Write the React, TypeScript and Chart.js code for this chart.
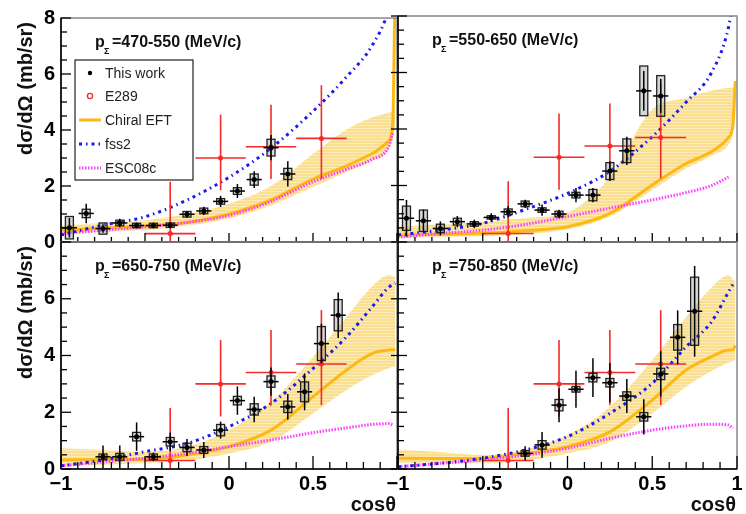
import React, { useEffect, useRef } from "react";
import { Chart, registerables } from "chart.js";

Chart.register(...registerables);

const FONT = '"Liberation Sans", Arial, Helvetica, sans-serif';

// ---------- axis ticks ----------
const X_TICKS = [-1, -0.5, 0, 0.5, 1];
const X_TICK_LABELS = ["\u22121", "\u22120.5", "0", "0.5", "1"];
const Y_TICKS = [0, 2, 4, 6, 8];
const Y_TICK_LABELS = ["0", "2", "4", "6", "8"];

const Y_TITLE = "d\u03c3/d\u03a9 (mb/sr)";
const X_TITLE = "cos\u03b8";
const LEGEND_LABELS = ["This work", "E289", "Chiral EFT", "fss2", "ESC08c"];

// ---------- theory curves sampled at these cos(theta) ----------
const CURVE_X = [-1, -0.75, -0.5, -0.25, 0, 0.25, 0.5, 0.7, 0.85, 0.95, 0.975, 0.99];

// ---------- E289 (same in every panel) ----------
const E289_COS = [-0.35, -0.05, 0.25, 0.55];
const E289_VAL = [0.3, 3.0, 3.4, 3.7];
const E289_ERR_UP = [1.85, 1.55, 1.5, 1.9];
const E289_ERR_DN = [1.85, 1.15, 1.15, 1.45];
const E289_HALF_BIN = 0.15;
const WORK_HALF_BIN = 0.045;

// ---------- panel 1: 470-550 MeV/c ----------
const P1_COS = [-0.95, -0.85, -0.75, -0.65, -0.55, -0.45, -0.35, -0.25, -0.15, -0.05, 0.05, 0.15, 0.25, 0.35];
const P1_VAL = [0.51, 1.02, 0.48, 0.68, 0.59, 0.59, 0.6, 0.99, 1.11, 1.45, 1.82, 2.23, 3.37, 2.43];
const P1_STAT = [0.35, 0.35, 0.15, 0.15, 0.1, 0.1, 0.1, 0.12, 0.15, 0.2, 0.25, 0.3, 0.45, 0.45];
const P1_SYS = [0.4, 0.15, 0.2, 0.1, 0.08, 0.08, 0.08, 0.1, 0.1, 0.1, 0.12, 0.2, 0.3, 0.2];
const P1_CHIRAL = [0.42, 0.5, 0.57, 0.7, 1.0, 1.5, 2.25, 2.72, 3.15, 3.6, 4.3, 10];
const P1_BAND_UP = [0.6, 0.68, 0.78, 1.0, 1.37, 2.0, 3.14, 4.02, 4.45, 4.62, 4.67, 4.7];
const P1_BAND_LO = [0.3, 0.36, 0.42, 0.58, 0.84, 1.3, 1.96, 2.5, 2.9, 3.3, 3.7, 4.2];
const P1_FSS2 = [0.25, 0.6, 0.9, 1.5, 2.31, 3.35, 4.67, 5.9, 7.0, 8.3, 9, null];
const P1_ESC08C = [0.3, 0.42, 0.54, 0.7, 0.95, 1.45, 2.15, 2.6, 2.95, 3.4, 3.9, null];

// ---------- panel 2: 550-650 MeV/c ----------
const P2_COS = [-0.95, -0.85, -0.75, -0.65, -0.55, -0.45, -0.35, -0.25, -0.15, -0.05, 0.05, 0.15, 0.25, 0.35, 0.45, 0.55];
const P2_VAL = [0.84, 0.75, 0.48, 0.72, 0.64, 0.87, 1.07, 1.35, 1.13, 0.99, 1.66, 1.66, 2.51, 3.23, 5.35, 5.17];
const P2_STAT = [0.65, 0.4, 0.25, 0.2, 0.15, 0.15, 0.2, 0.15, 0.2, 0.15, 0.25, 0.25, 0.35, 0.5, 0.7, 0.6];
const P2_SYS = [0.43, 0.38, 0.15, 0.12, 0.08, 0.06, 0.1, 0.1, 0.08, 0.1, 0.1, 0.2, 0.3, 0.42, 0.88, 0.72];
const P2_CHIRAL = [0.25, 0.27, 0.31, 0.4, 0.54, 1.01, 2.02, 2.78, 3.2, 3.7, 4.1, 5.7];
const P2_BAND_UP = [0.54, 0.62, 0.72, 0.85, 1.05, 2.3, 4.7, 5.1, 5.35, 5.45, 5.45, 5.6];
const P2_BAND_LO = [0.15, 0.17, 0.2, 0.28, 0.45, 0.9, 1.84, 2.6, 3.05, 3.45, 3.8, 4.5];
const P2_FSS2 = [0.25, 0.42, 0.66, 1.15, 1.72, 2.5, 3.73, 4.95, 6.0, 7.6, 8.5, null];
const P2_ESC08C = [0.17, 0.3, 0.42, 0.62, 0.9, 1.2, 1.49, 1.75, 2.0, 2.3, null, null];

// ---------- panel 3: 650-750 MeV/c ----------
const P3_COS = [-0.75, -0.65, -0.55, -0.45, -0.35, -0.25, -0.15, -0.05, 0.05, 0.15, 0.25, 0.35, 0.45, 0.55, 0.65];
const P3_VAL = [0.43, 0.43, 1.14, 0.43, 0.96, 0.76, 0.67, 1.37, 2.41, 2.1, 3.08, 2.19, 2.72, 4.42, 5.42];
const P3_STAT = [0.4, 0.4, 0.5, 0.15, 0.33, 0.3, 0.28, 0.3, 0.5, 0.45, 0.5, 0.45, 0.65, 0.7, 0.8];
const P3_SYS = [0.1, 0.12, 0.15, 0.1, 0.15, 0.15, 0.12, 0.2, 0.15, 0.2, 0.2, 0.2, 0.35, 0.6, 0.55];
const P3_CHIRAL = [0.32, 0.33, 0.34, 0.49, 0.79, 1.37, 2.55, 3.49, 4.07, 4.19, 4.2, 4.2];
const P3_BAND_UP = [0.73, 0.67, 0.6, 0.79, 1.37, 2.37, 3.95, 5.36, 6.42, 6.83, 6.8, 6.75];
const P3_BAND_LO = [0.1, 0.15, 0.2, 0.3, 0.55, 0.96, 1.96, 2.78, 3.3, 3.55, 3.6, 3.6];
const P3_FSS2 = [0.11, 0.32, 0.61, 0.9, 1.49, 2.31, 3.54, 4.66, 5.7, 6.4, 6.5, 6.55];
const P3_ESC08C = [0.11, 0.25, 0.38, 0.55, 0.79, 1.02, 1.28, 1.45, 1.57, 1.6, 1.55, null];

// ---------- panel 4: 750-850 MeV/c ----------
const P4_COS = [-0.25, -0.15, -0.05, 0.05, 0.15, 0.25, 0.35, 0.45, 0.55, 0.65, 0.75];
const P4_VAL = [0.55, 0.85, 2.25, 2.81, 3.22, 3.04, 2.57, 1.84, 3.35, 4.64, 5.56];
const P4_STAT = [0.25, 0.45, 0.6, 0.65, 0.68, 0.7, 0.6, 0.62, 0.8, 0.95, 1.6];
const P4_SYS = [0.1, 0.15, 0.2, 0.1, 0.15, 0.15, 0.15, 0.15, 0.2, 0.45, 1.2];
const P4_CHIRAL = [0.38, 0.37, 0.38, 0.55, 0.79, 1.31, 2.43, 3.49, 3.96, 4.19, 4.2, 4.35];
const P4_BAND_UP = [0.69, 0.6, 0.49, 0.69, 1.2, 2.19, 3.84, 5.36, 6.4, 6.83, 6.7, 6.6];
const P4_BAND_LO = [0.2, 0.2, 0.2, 0.3, 0.55, 0.96, 1.96, 2.9, 3.45, 3.75, 3.8, 3.85];
const P4_FSS2 = [0.08, 0.2, 0.38, 0.67, 1.14, 1.96, 3.02, 4.31, 5.19, 6.24, 6.5, null];
const P4_ESC08C = [0.08, 0.2, 0.32, 0.49, 0.73, 1.08, 1.37, 1.52, 1.58, 1.55, 1.43, null];

const PANELS = [
  {
    label: "=470-550 (MeV/c)", cos: P1_COS, val: P1_VAL, stat: P1_STAT, sys: P1_SYS,
    chiral: P1_CHIRAL, up: P1_BAND_UP, lo: P1_BAND_LO, fss2: P1_FSS2, esc: P1_ESC08C,
    left: 0, top: 0, w: 410, h: 260, pad: { left: 0, top: 16, right: 13, bottom: 18 },
    yW: 61, xH: 0, showX: false, showY: true, right: false, bottom: false, legend: true,
    hideX: [] as number[], hideY: [] as number[],
  },
  {
    label: "=550-650 (MeV/c)", cos: P2_COS, val: P2_VAL, stat: P2_STAT, sys: P2_SYS,
    chiral: P2_CHIRAL, up: P2_BAND_UP, lo: P2_BAND_LO, fss2: P2_FSS2, esc: P2_ESC08C,
    left: 380, top: 0, w: 366, h: 260, pad: { left: 0, top: 16, right: 9, bottom: 18 },
    yW: 18, xH: 0, showX: false, showY: false, right: true, bottom: false, legend: false,
    hideX: [] as number[], hideY: [] as number[],
  },
  {
    label: "=650-750 (MeV/c)", cos: P3_COS, val: P3_VAL, stat: P3_STAT, sys: P3_SYS,
    chiral: P3_CHIRAL, up: P3_BAND_UP, lo: P3_BAND_LO, fss2: P3_FSS2, esc: P3_ESC08C,
    left: 0, top: 220, w: 410, h: 294, pad: { left: 0, top: 22, right: 13, bottom: 0 },
    yW: 61, xH: 45, showX: true, showY: true, right: false, bottom: true, legend: false,
    hideX: [1], hideY: [8],
  },
  {
    label: "=750-850 (MeV/c)", cos: P4_COS, val: P4_VAL, stat: P4_STAT, sys: P4_SYS,
    chiral: P4_CHIRAL, up: P4_BAND_UP, lo: P4_BAND_LO, fss2: P4_FSS2, esc: P4_ESC08C,
    left: 380, top: 220, w: 366, h: 294, pad: { left: 0, top: 22, right: 9, bottom: 0 },
    yW: 18, xH: 45, showX: true, showY: false, right: true, bottom: true, legend: false,
    hideX: [] as number[], hideY: [8],
  },
];

const COL_CHIRAL = "#FDB813";
const COL_FSS2 = "#1A1AF0";
const COL_ESC = "#FF40FF";
const COL_E289 = "#F52A2A";
const DASH_FSS2 = [3, 4, 1.5, 4];
const DASH_ESC = [1.5, 1.5];

function pts(xs: number[], ys: (number | null)[]) {
  const out: { x: number; y: number }[] = [];
  xs.forEach((x, i) => {
    const y = ys[i];
    if (y !== null && y !== undefined) out.push({ x, y });
  });
  return out;
}

function seg(ctx: CanvasRenderingContext2D, x1: number, y1: number, x2: number, y2: number) {
  ctx.beginPath();
  ctx.moveTo(x1, y1);
  ctx.lineTo(x2, y2);
  ctx.stroke();
}

function makePlugin(p: any) {
  return {
    id: "panelDecor",
    beforeDatasetDraw(chart: any, args: any) {
      const { ctx, chartArea: a, scales } = chart;
      const xs = scales.x, ys = scales.y;
      ctx.save();
      ctx.beginPath();
      ctx.rect(a.left, a.top, a.right - a.left, a.bottom - a.top);
      ctx.clip();
      if (args.index === 5) {
        ctx.strokeStyle = COL_E289;
        ctx.lineWidth = 1.6;
        E289_COS.forEach((c, i) => {
          const px = xs.getPixelForValue(c);
          const py = ys.getPixelForValue(E289_VAL[i]);
          seg(ctx, xs.getPixelForValue(c - E289_HALF_BIN), py, xs.getPixelForValue(c + E289_HALF_BIN), py);
          seg(ctx, px, ys.getPixelForValue(E289_VAL[i] + E289_ERR_UP[i]), px, ys.getPixelForValue(E289_VAL[i] - E289_ERR_DN[i]));
        });
      }
      if (args.index === 6) {
        p.cos.forEach((c: number, i: number) => {
          const px = xs.getPixelForValue(c);
          const v = p.val[i];
          const t = ys.getPixelForValue(v + p.sys[i]);
          const b = ys.getPixelForValue(v - p.sys[i]);
          ctx.fillStyle = "rgba(110,110,110,0.28)";
          ctx.fillRect(px - 4, t, 8, b - t);
          ctx.strokeStyle = "#222";
          ctx.lineWidth = 1.3;
          ctx.strokeRect(px - 4, t, 8, b - t);
        });
        ctx.strokeStyle = "#000";
        ctx.lineWidth = 1.5;
        p.cos.forEach((c: number, i: number) => {
          const px = xs.getPixelForValue(c);
          const v = p.val[i];
          const py = ys.getPixelForValue(v);
          seg(ctx, xs.getPixelForValue(c - WORK_HALF_BIN), py, xs.getPixelForValue(c + WORK_HALF_BIN), py);
          seg(ctx, px, ys.getPixelForValue(v + p.stat[i]), px, ys.getPixelForValue(v - p.stat[i]));
        });
      }
      ctx.restore();
    },
    afterDraw(chart: any) {
      const { ctx, chartArea: a, scales } = chart;
      const xs = scales.x, ys = scales.y;
      ctx.save();
      // frame
      ctx.strokeStyle = "#888";
      ctx.lineWidth = 1.5;
      ctx.strokeRect(a.left, a.top, a.right - a.left, a.bottom - a.top);
      ctx.strokeStyle = "#000";
      ctx.lineWidth = 1.6;
      seg(ctx, a.left, a.top, a.left, a.bottom);
      seg(ctx, a.left, a.bottom, a.right, a.bottom);
      // x ticks (inward)
      ctx.lineWidth = 1.3;
      for (let i = -10; i <= 10; i++) {
        const px = xs.getPixelForValue(i / 10);
        const major = i % 5 === 0;
        const len = major ? (p.bottom ? 13 : 9) : (p.bottom ? 7 : 5);
        seg(ctx, px, a.bottom, px, a.bottom - len);
      }
      // y ticks
      for (let i = 0; i <= 16; i++) {
        const py = ys.getPixelForValue(i / 2);
        const major = i % 4 === 0;
        if (p.right) {
          if (major) seg(ctx, a.left - 7, py, a.left + 9, py);
          else seg(ctx, a.left - 1, py, a.left + 6, py);
        } else {
          seg(ctx, a.left, py, a.left + (major ? 10 : 6), py);
        }
      }
      // panel label
      ctx.fillStyle = "#111";
      ctx.textAlign = "left";
      ctx.textBaseline = "alphabetic";
      ctx.font = `bold 16px ${FONT}`;
      ctx.fillText("p", a.left + 34, a.top + 29);
      ctx.font = `bold 9px ${FONT}`;
      ctx.fillText("\u03a3", a.left + 43, a.top + 36);
      ctx.font = `bold 16px ${FONT}`;
      ctx.fillText(p.label, a.left + 51, a.top + 29);
      // y title
      if (!p.right) {
        ctx.save();
        ctx.translate(26, a.top + 4);
        ctx.rotate(-Math.PI / 2);
        ctx.textAlign = "right";
        ctx.textBaseline = "middle";
        ctx.font = `bold 20px ${FONT}`;
        ctx.fillStyle = "#111";
        ctx.fillText(Y_TITLE, 0, 0);
        ctx.restore();
      }
      // x title
      if (p.bottom) {
        ctx.textAlign = "right";
        ctx.textBaseline = "alphabetic";
        ctx.font = `bold 20px ${FONT}`;
        ctx.fillStyle = "#111";
        ctx.fillText(X_TITLE, a.right - 1, a.bottom + 42);
      }
      // legend
      if (p.legend) {
        const bx = a.left + 14, by = a.top + 42, bw = 118, bh = 120;
        ctx.fillStyle = "#fff";
        ctx.fillRect(bx, by, bw, bh);
        ctx.strokeStyle = "#222";
        ctx.lineWidth = 1.2;
        ctx.strokeRect(bx, by, bw, bh);
        const rows = [55, 78, 102, 126, 150].map((v) => a.top + v);
        const mx = a.left + 29;
        ctx.fillStyle = "#000";
        ctx.beginPath();
        ctx.arc(mx, rows[0], 2.2, 0, Math.PI * 2);
        ctx.fill();
        ctx.strokeStyle = COL_E289;
        ctx.lineWidth = 1.3;
        ctx.beginPath();
        ctx.arc(mx, rows[1], 2.6, 0, Math.PI * 2);
        ctx.stroke();
        ctx.lineWidth = 3;
        ctx.strokeStyle = COL_CHIRAL;
        seg(ctx, a.left + 18, rows[2], a.left + 40, rows[2]);
        ctx.strokeStyle = COL_FSS2;
        ctx.setLineDash(DASH_FSS2);
        seg(ctx, a.left + 18, rows[3], a.left + 40, rows[3]);
        ctx.strokeStyle = COL_ESC;
        ctx.setLineDash(DASH_ESC);
        seg(ctx, a.left + 18, rows[4], a.left + 40, rows[4]);
        ctx.setLineDash([]);
        ctx.fillStyle = "#222";
        ctx.font = `14px ${FONT}`;
        ctx.textAlign = "left";
        ctx.textBaseline = "middle";
        LEGEND_LABELS.forEach((t, i) => ctx.fillText(t, a.left + 44, rows[i] + 1));
      }
      ctx.restore();
    },
  };
}

function Panel({ p }: { p: any }) {
  const ref = useRef<HTMLCanvasElement>(null);
  useEffect(() => {
    const canvas = ref.current!;
    const pc = document.createElement("canvas");
    pc.width = 4;
    pc.height = 3;
    const g = pc.getContext("2d")!;
    g.fillStyle = "#FADF90";
    g.fillRect(0, 0, 4, 3);
    g.fillStyle = "#FCEBBA";
    g.fillRect(0, 2, 4, 1);
    const pattern = canvas.getContext("2d")!.createPattern(pc, "repeat");

    const line = (data: any, color: string, dash: number[], order: number) => ({
      data,
      borderColor: color,
      borderWidth: 3,
      borderDash: dash,
      pointRadius: 0,
      fill: false,
      cubicInterpolationMode: "monotone",
      order,
    });

    const chart = new Chart(canvas, {
      type: "line",
      data: {
        datasets: [
          { data: pts(CURVE_X, p.up), borderWidth: 0, borderColor: "rgba(0,0,0,0)", pointRadius: 0, fill: "+1", backgroundColor: pattern, cubicInterpolationMode: "monotone", order: 10 },
          { data: pts(CURVE_X, p.lo), borderWidth: 0, borderColor: "rgba(0,0,0,0)", pointRadius: 0, fill: false, cubicInterpolationMode: "monotone", order: 11 },
          line(pts(CURVE_X, p.chiral), COL_CHIRAL, [], 6),
          line(pts(CURVE_X, p.fss2), COL_FSS2, DASH_FSS2, 4),
          line(pts(CURVE_X, p.esc), COL_ESC, DASH_ESC, 5),
          { data: pts(E289_COS, E289_VAL), showLine: false, pointRadius: 2.5, pointBackgroundColor: COL_E289, pointBorderColor: COL_E289, pointBorderWidth: 0, order: 2 },
          { data: pts(p.cos, p.val), showLine: false, pointRadius: 2.5, pointBackgroundColor: "#000", pointBorderColor: "#000", pointBorderWidth: 0, order: 1 },
        ] as any,
      },
      options: {
        animation: false,
        responsive: false,
        devicePixelRatio: 1,
        events: [],
        layout: { padding: p.pad },
        plugins: { legend: { display: false }, tooltip: { enabled: false } },
        scales: {
          x: {
            type: "linear",
            min: -1,
            max: 1,
            afterBuildTicks: (s: any) => { s.ticks = X_TICKS.map((v) => ({ value: v })); },
            afterFit: (s: any) => { s.height = p.xH; },
            grid: { display: false, drawTicks: false },
            border: { display: false },
            ticks: {
              display: p.showX,
              autoSkip: false,
              maxRotation: 0,
              padding: 3,
              color: "#000",
              font: { family: FONT, size: 20, weight: "bold" },
              callback: (v: any) => {
                const i = X_TICKS.indexOf(Number(v));
                if (i < 0 || p.hideX.includes(X_TICKS[i])) return "";
                return X_TICK_LABELS[i];
              },
            },
          },
          y: {
            type: "linear",
            min: 0,
            max: 8,
            afterBuildTicks: (s: any) => { s.ticks = Y_TICKS.map((v) => ({ value: v })); },
            afterFit: (s: any) => { s.width = p.yW; },
            grid: { display: false, drawTicks: false },
            border: { display: false },
            ticks: {
              display: p.showY,
              padding: 6,
              color: "#000",
              font: { family: FONT, size: 20, weight: "bold" },
              callback: (v: any) => {
                const i = Y_TICKS.indexOf(Number(v));
                if (i < 0 || p.hideY.includes(Y_TICKS[i])) return "";
                return Y_TICK_LABELS[i];
              },
            },
          },
        },
      } as any,
      plugins: [makePlugin(p)],
    });
    return () => chart.destroy();
  }, []);
  return (
    <canvas
      ref={ref}
      width={p.w}
      height={p.h}
      style={{ position: "absolute", left: p.left, top: p.top, width: p.w, height: p.h }}
    />
  );
}

export default function App() {
  return (
    <div style={{ position: "absolute", left: 0, top: 0, width: 746, height: 514, background: "#fff", overflow: "hidden" }}>
      {PANELS.map((p, i) => (
        <Panel key={i} p={p} />
      ))}
    </div>
  );
}
